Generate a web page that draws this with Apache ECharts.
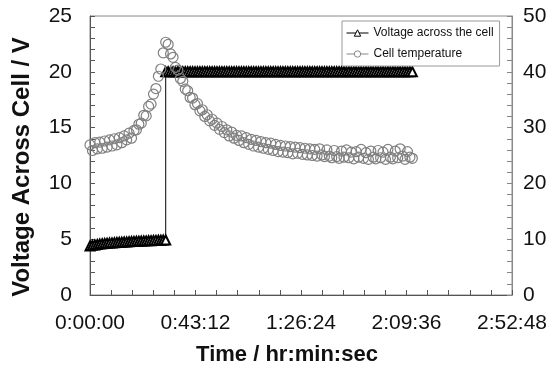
<!DOCTYPE html>
<html><head><meta charset="utf-8">
<script src="https://cdn.jsdelivr.net/npm/echarts@6/dist/echarts.min.js"></script>
<style>html,body{margin:0;padding:0;background:#fff}#c{width:552px;height:372px}</style>
</head><body><div id="c"></div>
<script>
// sampling times (seconds)
const times = [0,60,120,180,240,300,360,420,480,540,
600,660,720,780,840,900,960,1020,1080,1140,
1200,1260,1320,1380,1440,1500,1560,1620,1680,1740,
1800,1860,1920,1980,2040,2100,2160,2220,2280,2340,
2400,2460,2520,2580,2640,2700,2760,2820,2880,2940,
3000,3060,3120,3180,3240,3300,3360,3420,3480,3540,
3600,3660,3720,3780,3840,3900,3960,4020,4080,4140,
4200,4260,4320,4380,4440,4500,4560,4620,4680,4740,
4800,4860,4920,4980,5040,5100,5160,5220,5280,5340,
5400,5460,5520,5580,5640,5700,5760,5820,5880,5940,
6000,6060,6120,6180,6240,6300,6360,6420,6480,6540,
6600,6660,6720,6780,6840,6900,6960,7020,7080,7140,
7200,7260,7320,7380,7440,7500,7560,7620,7680,7740,
7800,7860,7920];
// cell temperature (right axis)
const temperature = [26.9,25.9,27.3,26.2,27.4,26.3,27.6,26.5,27.8,26.7,
28.0,26.9,28.2,27.3,28.5,27.8,29.0,28.1,29.5,29.6,
30.6,30.8,32.2,32.1,33.8,34.2,36.0,37.0,39.2,40.5,
43.4,45.3,44.9,43.2,42.6,40.8,40.3,38.8,38.3,36.9,
36.6,35.4,35.3,34.1,34.3,33.0,33.2,32.0,32.3,31.2,
31.5,30.4,30.8,29.7,30.2,29.1,29.6,28.5,29.2,28.1,
28.6,27.7,28.5,27.3,28.2,27.0,27.9,26.7,27.7,26.5,
27.5,26.3,27.3,26.1,27.2,25.9,27.0,25.7,26.8,25.6,
26.7,25.5,26.6,25.3,26.5,25.4,26.4,25.2,26.3,25.1,
26.2,25.0,26.1,24.9,26.2,25.1,24.8,26.0,24.9,24.6,
25.9,24.8,24.5,25.8,24.7,26.0,24.6,25.6,24.4,25.7,
24.7,26.1,24.5,25.5,24.3,25.8,24.7,24.4,25.9,24.6,
25.6,24.3,26.1,24.7,24.4,25.8,24.6,26.2,24.9,24.3,
25.7,24.7,24.5];
// voltage before the step (times[0..31])
const voltageLow = [4.40,4.45,4.49,4.53,4.56,4.59,4.61,4.63,4.65,4.67,
4.69,4.70,4.72,4.73,4.75,4.76,4.77,4.79,4.80,4.81,
4.82,4.83,4.84,4.85,4.86,4.87,4.88,4.89,4.90,4.91,
4.92,4.93];
// voltage after the step (times[31..132])
const voltageHigh = [20,20,20,20,20,20,20,20,20,20,
20,20,20,20,20,20,20,20,20,20,
20,20,20,20,20,20,20,20,20,20,
20,20,20,20,20,20,20,20,20,20,
20,20,20,20,20,20,20,20,20,20,
20,20,20,20,20,20,20,20,20,20,
20,20,20,20,20,20,20,20,20,20,
20,20,20,20,20,20,20,20,20,20,
20,20,20,20,20,20,20,20,20,20,
20,20,20,20,20,20,20,20,20,20,
20,20];
const stepIndex = 31;
const xTicks = ['0:00:00','0:43:12','1:26:24','2:09:36','2:52:48'];
const leftTicks = [0,5,10,15,20,25];
const rightTicks = [0,10,20,30,40,50];

const voltData = voltageLow.map((v,i)=>[times[i],v])
  .concat(voltageHigh.map((v,i)=>[times[stepIndex+i],v]));
const tempData = temperature.map((v,i)=>[times[i],v]);

const FONT = 'Liberation Sans, Arial, Helvetica, sans-serif';
const chart = echarts.init(document.getElementById('c'), null, {renderer:'canvas'});
const tickCommon = {show:true, inside:true, length:5, lineStyle:{color:'#555'}};
chart.setOption({
  animation:false,
  backgroundColor:'#fff',
  grid:{left:90, right:40, top:16, bottom:77, show:true, borderColor:'#888', borderWidth:1},
  legend:{
    orient:'vertical', left:342, top:21,
    backgroundColor:'#fff', borderColor:'#999', borderWidth:1,
    padding:[6,6,6,4], itemWidth:22, itemHeight:8, itemGap:9,
    textStyle:{fontFamily:FONT, fontSize:12, color:'#111'},
    data:[
      {name:'Voltage across the cell', itemStyle:{color:'#fff', borderColor:'#000', borderWidth:1}, lineStyle:{color:'#000', width:1, opacity:1}},
      {name:'Cell temperature', itemStyle:{color:'#fff', borderColor:'#888', borderWidth:1}, lineStyle:{color:'#888', width:1, opacity:1}}
    ]
  },
  xAxis:{
    type:'value', min:0, max:10368, interval:2592,
    axisLine:{show:true, lineStyle:{color:'#555'}},
    axisTick:tickCommon,
    minorTick:{show:true, splitNumber:5, length:5, lineStyle:{color:'#555'}},
    splitLine:{show:false},
    axisLabel:{margin:18, fontFamily:FONT, fontSize:21, color:'#111',
      formatter:(v)=>xTicks[Math.round(v/2592)]},
    name:'Time / hr:min:sec', nameLocation:'middle', nameGap:49,
    nameTextStyle:{fontFamily:FONT, fontSize:22, fontWeight:'bold', color:'#111', padding:[0,28,0,0]}
  },
  yAxis:[
    {type:'value', min:0, max:25, interval:5, position:'left',
      axisLine:{show:true, lineStyle:{color:'#555'}},
      axisTick:tickCommon,
      minorTick:{show:true, splitNumber:5, length:5, lineStyle:{color:'#555'}},
      splitLine:{show:false},
      axisLabel:{margin:18, fontFamily:FONT, fontSize:21, color:'#111',
        formatter:(v)=>String(leftTicks[Math.round(v/5)])}
    },
    {type:'value', min:0, max:50, interval:10, position:'right',
      axisLine:{show:true, lineStyle:{color:'#888'}},
      axisTick:{show:true, inside:true, length:5, lineStyle:{color:'#888'}},
      minorTick:{show:true, splitNumber:5, length:5, lineStyle:{color:'#888'}},
      splitLine:{show:false},
      axisLabel:{margin:11, fontFamily:FONT, fontSize:21, color:'#111',
        formatter:(v)=>String(rightTicks[Math.round(v/10)])}
    }
  ],
  graphic:[{
    type:'text', x:22, y:167, rotation:Math.PI/2,
    style:{text:'Voltage Across Cell / V', font:'bold 24px '+FONT, fill:'#111', align:'center', verticalAlign:'middle'}
  }],
  series:[
    {name:'Voltage across the cell', type:'line', yAxisIndex:0, data:voltData,
      symbol:'triangle', symbolSize:9, showAllSymbol:true,
      itemStyle:{color:'#fff', borderColor:'#000', borderWidth:2},
      lineStyle:{color:'#000', width:1}, z:2},
    {name:'Cell temperature', type:'line', yAxisIndex:1, data:tempData,
      symbol:'circle', symbolSize:10, showAllSymbol:true,
      itemStyle:{color:'rgba(255,255,255,0)', borderColor:'#808080', borderWidth:1.2},
      lineStyle:{width:0, opacity:0}, z:3}
  ]
});
</script></body></html>
